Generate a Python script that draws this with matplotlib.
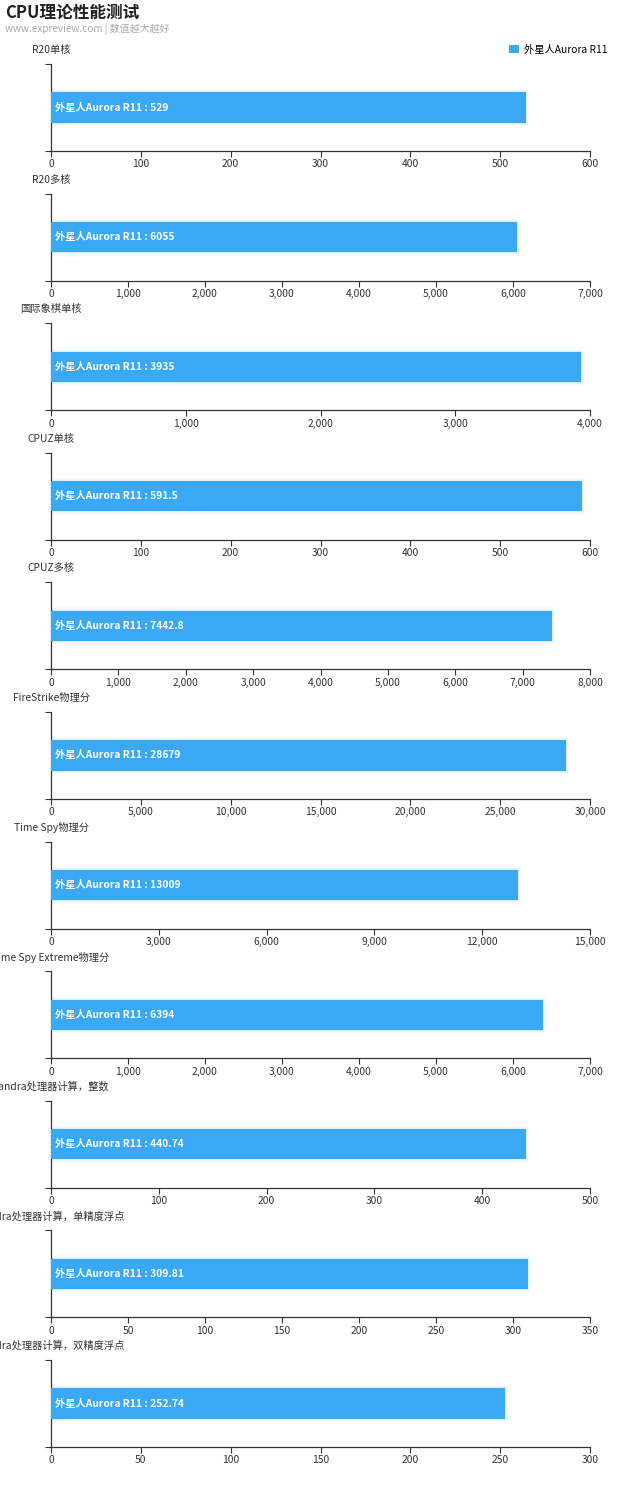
import matplotlib.pyplot as plt
from matplotlib.patches import Patch
from matplotlib.ticker import FuncFormatter, MultipleLocator

plt.rcParams['font.family'] = ['Noto Sans CJK SC', 'DejaVu Sans']

# data
series_name = '外星人Aurora R11'
tests = ['R20单核', 'R20多核', '国际象棋单核', 'CPUZ单核', 'CPUZ多核', 'FireStrike物理分',
         'Time Spy物理分', 'Time Spy Extreme物理分', 'Sandra处理器计算，整数',
         'Sandra处理器计算，单精度浮点', 'Sandra处理器计算，双精度浮点']
scores = [529, 6055, 3935, 591.5, 7442.8, 28679, 13009, 6394, 440.74, 309.81, 252.74]
labels = ['529', '6055', '3935', '591.5', '7442.8', '28679', '13009', '6394',
          '440.74', '309.81', '252.74']
axis_max = [600, 7000, 4000, 600, 8000, 30000, 15000, 7000, 500, 350, 300]
tick_step = [100, 1000, 1000, 100, 1000, 5000, 3000, 1000, 100, 50, 50]

W, H = 640, 1500
bar_color = '#3aa9f5'
axis_color = '#333333'

fig = plt.figure(figsize=(W / 100, H / 100), dpi=100)

fig.text(5 / W, 1 - 13 / H, 'CPU理论性能测试', fontsize=12, fontweight='bold',
         color='#222222', ha='left', va='center')
fig.text(5 / W, 1 - 29 / H, 'www.expreview.com | 数值越大越好', fontsize=7.2,
         color='#aaaaaa', ha='left', va='center')

left, right = 51, 590
for i, name in enumerate(tests):
    bottom_px = 151 + i * 129.6
    top_px = bottom_px - 87
    ax = fig.add_axes([left / W, 1 - bottom_px / H, (right - left) / W, 87 / H])

    v = scores[i]
    # soft glow around the bar
    for grow, a in [(0.04, 0.04), (0.025, 0.06), (0.012, 0.09)]:
        ax.barh(0, v + axis_max[i] * grow * 0.2, height=0.345 + grow * 2,
                left=-axis_max[i] * grow * 0.1, color=bar_color, alpha=a, lw=0)
    ax.barh(0, v, height=0.345, color=bar_color, lw=0, zorder=3)
    ax.text(axis_max[i] * 0.008, 0, f'{series_name} : {labels[i]}', color='white',
            fontsize=7.4, fontweight='bold', ha='left', va='center', zorder=4)

    ax.set_xlim(0, axis_max[i])
    ax.set_ylim(-0.5, 0.5)
    ax.xaxis.set_major_locator(MultipleLocator(tick_step[i]))
    ax.xaxis.set_major_formatter(FuncFormatter(lambda x, p: f'{int(x):,}'))
    ax.tick_params(axis='x', length=4, width=0.8, color=axis_color,
                   labelsize=7.4, labelcolor='#333333', pad=2)
    ax.set_yticks([-0.5, 0.5])
    ax.set_yticklabels([])
    ax.tick_params(axis='y', length=4, width=0.8, color=axis_color)
    for s in ['top', 'right']:
        ax.spines[s].set_visible(False)
    for s in ['left', 'bottom']:
        ax.spines[s].set_color(axis_color)
        ax.spines[s].set_linewidth(0.9)

    fig.text(left / W, 1 - (top_px - 14) / H, name, fontsize=7.4, color='#333333',
             ha='center', va='center')

handle = Patch(facecolor=bar_color, edgecolor='none')
fig.legend([handle], [series_name], loc='center right', bbox_to_anchor=(612 / W, 1 - 50 / H),
           frameon=False, fontsize=7.4, handlelength=1.0, handleheight=0.8,
           handletextpad=0.5, borderaxespad=0)

fig.savefig('out.png', dpi=100, facecolor='white')
